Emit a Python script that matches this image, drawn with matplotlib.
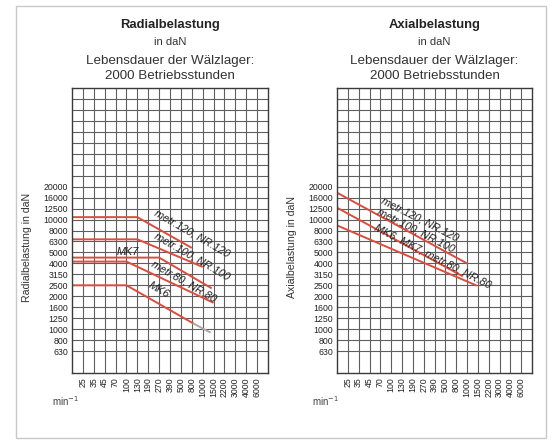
import numpy as np
import matplotlib
matplotlib.use("Agg")
import matplotlib.pyplot as plt
from matplotlib.patches import Rectangle

plt.rcParams['font.family'] = ['Liberation Sans', 'DejaVu Sans']

# Skalen des Nomogramms (gleichabständig beschriftet)
drehzahl = [25, 35, 45, 70, 100, 130, 190, 270, 390, 500, 800, 1000, 1500, 2200, 3000, 4000, 6000]
belastung = [630, 800, 1000, 1250, 1600, 2000, 2500, 3150, 4000, 5000, 6300, 8000, 10000, 12500, 16000, 20000]

# Radialbelastung
rad_120_n = [17, 130, 800]
rad_120_f = [10500, 10500, 5500]
rad_100_n = [17, 130, 1000]
rad_100_f = [6600, 6600, 3700]
rad_mk7_n = [17, 270, 1400]
rad_mk7_f = [4500, 4500, 2350]
rad_80_n = [17, 100, 1500]
rad_80_f = [4150, 4150, 1750]
rad_mk6_n = [17, 100, 830]
rad_mk6_f = [2500, 2500, 1120]
rad_mk6_rest_n = [830, 1300]
rad_mk6_rest_f = [1120, 940]

# Axialbelastung
ax_120_n = [17, 1000]
ax_120_f = [18000, 4000]
ax_100_n = [17, 900]
ax_100_f = [13000, 3050]
ax_80_n = [17, 1400]
ax_80_f = [9000, 2500]


def nomo_scale(ticks):
    lt = np.log(np.asarray(ticks, float))
    n = len(lt)
    idx = np.arange(n)

    def fwd(v):
        lv = np.log(np.clip(np.asarray(v, float), 1e-6, None))
        out = np.interp(lv, lt, idx)
        out = np.where(lv < lt[0], (lv - lt[0]) / (lt[1] - lt[0]), out)
        out = np.where(lv > lt[-1], n - 1 + (lv - lt[-1]) / (lt[-1] - lt[-2]), out)
        return out

    def inv(p):
        p = np.asarray(p, float)
        out = np.exp(np.interp(p, idx, lt))
        out = np.where(p < 0, np.exp(lt[0] + p * (lt[1] - lt[0])), out)
        out = np.where(p > n - 1, np.exp(lt[-1] + (p - n + 1) * (lt[-1] - lt[-2])), out)
        return out
    return fwd, inv


xf, xi = nomo_scale(drehzahl)
yf, yi = nomo_scale(belastung)

rot = '#dc4d3e'
gitter = '#5e5e5e'

fig = plt.figure(figsize=(5.54, 4.41), dpi=100)
fig.add_artist(Rectangle((16 / 554, 3 / 441), 530 / 554, 432 / 441, transform=fig.transFigure,
                         fill=False, edgecolor='#c8c8c8', lw=1.0))


def nomogramm(pos, titel, ylabel_txt, ylab_x, min_x):
    ax = fig.add_axes(pos)
    ax.set_xscale('function', functions=(xf, xi))
    ax.set_yscale('function', functions=(yf, yi))
    ax.set_xlim(xi(-1), xi(17))
    ax.set_ylim(yi(-2), yi(24))
    ax.set_xticks(drehzahl)
    ax.set_xticklabels([str(v) for v in drehzahl], rotation=90, fontsize=6.3, color='#222222')
    ax.set_yticks(belastung)
    ax.set_yticklabels([str(v) for v in belastung], fontsize=6.3, color='#222222')
    ax.set_xticks([], minor=True)
    ax.set_yticks(yi(np.arange(16, 24)), minor=True)
    ax.tick_params(which='both', length=0, pad=3)
    ax.grid(True, which='both', color=gitter, lw=0.8)
    for s in ax.spines.values():
        s.set_color('#3a3a3a')
        s.set_linewidth(1.0)

    cx = pos[0] + pos[2] / 2
    fig.text(cx, 1 - 25 / 441, titel, ha='center', va='center', fontsize=9.4, fontweight='bold', color='#222222')
    fig.text(cx, 1 - 42 / 441, 'in daN', ha='center', va='center', fontsize=8, color='#333333')
    fig.text(cx, 1 - 61 / 441, 'Lebensdauer der Wälzlager:', ha='center', va='center', fontsize=9.6, color='#333333')
    fig.text(cx, 1 - 76 / 441, '2000 Betriebsstunden', ha='center', va='center', fontsize=9.6, color='#333333')
    fig.text(ylab_x / 554, 1 - 247 / 441, ylabel_txt, rotation=90, ha='center', va='center',
             fontsize=7.6, color='#333333')
    fig.text(min_x / 554, 1 - 401 / 441, 'min$^{-1}$', ha='left', va='center', fontsize=7, color='#444444')
    return ax


ax1 = nomogramm([72 / 554, 68 / 441, 196 / 554, 285 / 441], 'Radialbelastung',
                'Radialbelastung in daN', 27, 52)
for n, f in [(rad_120_n, rad_120_f), (rad_100_n, rad_100_f), (rad_mk7_n, rad_mk7_f),
             (rad_80_n, rad_80_f), (rad_mk6_n, rad_mk6_f)]:
    ax1.plot(n, f, color=rot, lw=1.4, solid_capstyle='butt')
ax1.plot(rad_mk6_rest_n, rad_mk6_rest_f, color='#b0a8a8', lw=1.4)

lab = dict(fontsize=7.8, style='italic', color='#222222', ha='center', va='center',
           transform=ax1.transAxes, rotation_mode='anchor')
ax1.text(0.615, 0.49, 'metr.120, NR.120', rotation=-30, **lab)
ax1.text(0.610, 0.41, 'metr.100, NR.100', rotation=-30, **lab)
ax1.text(0.286, 0.425, 'MK7', rotation=0, **lab)
ax1.text(0.570, 0.322, 'metr.80, NR.80', rotation=-30, **lab)
ax1.text(0.445, 0.29, 'MK6', rotation=-30, **lab)

ax2 = nomogramm([337 / 554, 68 / 441, 195 / 554, 285 / 441], 'Axialbelastung',
                'Axialbelastung in daN', 292, 312)
for n, f in [(ax_120_n, ax_120_f), (ax_100_n, ax_100_f), (ax_80_n, ax_80_f)]:
    ax2.plot(n, f, color=rot, lw=1.4)

lab['transform'] = ax2.transAxes
ax2.text(0.425, 0.54, 'metr.120, NR.120', rotation=-27, **lab)
ax2.text(0.405, 0.50, 'metr.100, NR.100', rotation=-27, **lab)
ax2.text(0.49, 0.41, 'MK6, MK7, metr.80, NR.80', rotation=-27, **lab)

fig.savefig('out.png', dpi=100)
